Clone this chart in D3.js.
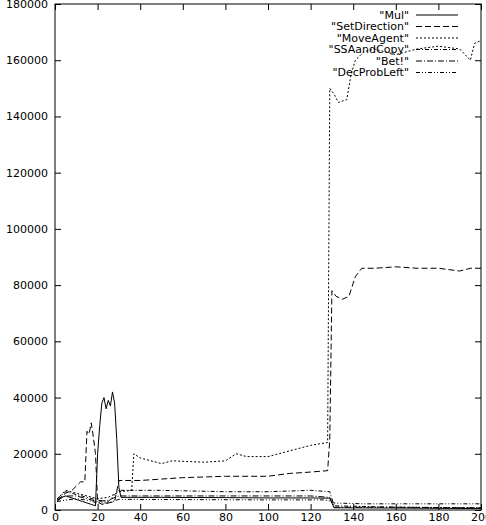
<!DOCTYPE html>
<html><head><meta charset="utf-8">
<script src="https://cdn.jsdelivr.net/npm/d3@7"></script>
<style>body{margin:0;background:#fff}text{font-family:"DejaVu Sans",sans-serif;font-size:11px}</style>
</head><body><svg id="c" width="486" height="525"></svg>
<script>
const seriesNames=["Mul","SetDirection","MoveAgent","SSAandCopy","Bet!","DecProbLeft"];
const xTicks=[0,20,40,60,80,100,120,140,160,180,200];
const yTicks=[0,20000,40000,60000,80000,100000,120000,140000,160000,180000];
const mulData=[[1,3000],[3,4500],[5,5000],[7,4500],[9,4000],[11,3500],[13,3000],[15,2500],[17,2000],[19,1500],[20,20000],[21,30000],[22,38000],[23,40000],[24,36000],[25,39000],[26,37000],[27,42000],[28,38000],[29,25000],[30,8000],[31,4500],[50,4500],[80,4400],[100,4300],[120,4300],[129,4200],[131,800],[160,700],[200,500]];
const setDirData=[[1,3500],[5,6000],[8,7000],[10,8500],[12,10000],[14,10000],[15,28000],[16,27000],[17,31000],[18,26000],[19,20000],[20,3000],[22,2000],[25,2500],[28,3000],[30,10500],[40,10500],[50,11000],[60,11500],[80,12000],[100,12000],[110,13000],[120,13500],[128,14000],[129,25000],[130,78000],[132,76000],[135,75000],[138,76000],[141,83000],[144,86000],[150,86000],[160,86500],[170,86000],[180,86000],[190,85000],[195,86000],[200,86000]];
const moveAgentData=[[1,4000],[5,7000],[10,6000],[15,5000],[20,4000],[25,4500],[30,6500],[36,7000],[37,20000],[40,18500],[50,16500],[55,17500],[70,17000],[80,17500],[85,20000],[90,19000],[100,19000],[110,21000],[115,22000],[120,23000],[128,24000],[129,150000],[131,148000],[133,145000],[137,146000],[139,155000],[141,160000],[145,163000],[150,164000],[160,162000],[170,164000],[180,165000],[190,164000],[195,160000],[197,166000],[200,167000]];
const ssaData=[[1,4000],[5,6500],[10,5500],[15,4500],[20,3500],[25,3000],[30,7000],[50,7000],[80,6500],[100,6500],[120,7000],[129,6500],[131,1500],[160,1000],[200,800]];
const betData=[[1,3500],[5,5000],[10,5000],[15,4000],[20,3000],[25,3500],[30,5000],[60,5000],[100,5000],[120,5000],[129,4500],[131,1000],[160,1000],[200,700]];
const decData=[[1,3000],[5,3500],[10,4000],[15,3500],[20,2500],[25,2500],[30,3800],[60,3700],[100,3600],[126,3600],[129,3200],[131,2500],[145,2200],[200,2200]];
const allData=[mulData,setDirData,moveAgentData,ssaData,betData,decData];
const dashes=[null,"6,3","2,2","4,2,1,2","6,2,1,2","4,2,1,2,1,2"];

const svg=d3.select("#c");
const L=55,R=481,T=4,B=510;
const x=d3.scaleLinear().domain([0,200]).range([L,R]);
const y=d3.scaleLinear().domain([0,180000]).range([B,T]);
const fmt=d3.format("d");
const ax=(g,a)=>g.call(a).call(s=>s.select(".domain").remove());
svg.append("g").attr("transform",`translate(0,${B})`).call(g=>ax(g,d3.axisBottom(x).tickValues(xTicks).tickSizeInner(-6).tickPadding(3).tickFormat(fmt)));
svg.append("g").attr("transform",`translate(0,${T})`).call(g=>ax(g,d3.axisTop(x).tickValues(xTicks).tickSizeInner(-6).tickFormat("")));
svg.append("g").attr("transform",`translate(${L},0)`).call(g=>ax(g,d3.axisLeft(y).tickValues(yTicks).tickSizeInner(-6).tickPadding(7).tickFormat(fmt)));
svg.append("g").attr("transform",`translate(${R},0)`).call(g=>ax(g,d3.axisRight(y).tickValues(yTicks).tickSizeInner(-6).tickFormat("")));
svg.selectAll(".tick line").attr("stroke","#000");
svg.selectAll(".tick text").attr("fill","#000").style("font-size","11px");
svg.append("rect").attr("x",L).attr("y",T).attr("width",R-L).attr("height",B-T).attr("fill","none").attr("stroke","#000");
const line=d3.line().x(d=>x(d[0])).y(d=>y(d[1]));
allData.forEach((d,i)=>{
 svg.append("path").datum(d).attr("d",line).attr("fill","none").attr("stroke","#000").attr("stroke-width",1).attr("stroke-dasharray",dashes[i]);
});
const lg=svg.append("g");
seriesNames.forEach((n,i)=>{
 const yy=15+i*11.5;
 lg.append("text").attr("x",409).attr("y",yy).attr("text-anchor","end").attr("dy","0.35em").text(`"${n}"`);
 lg.append("line").attr("x1",416).attr("x2",458).attr("y1",yy).attr("y2",yy).attr("stroke","#000").attr("stroke-dasharray",dashes[i]);
});
</script></body></html>
